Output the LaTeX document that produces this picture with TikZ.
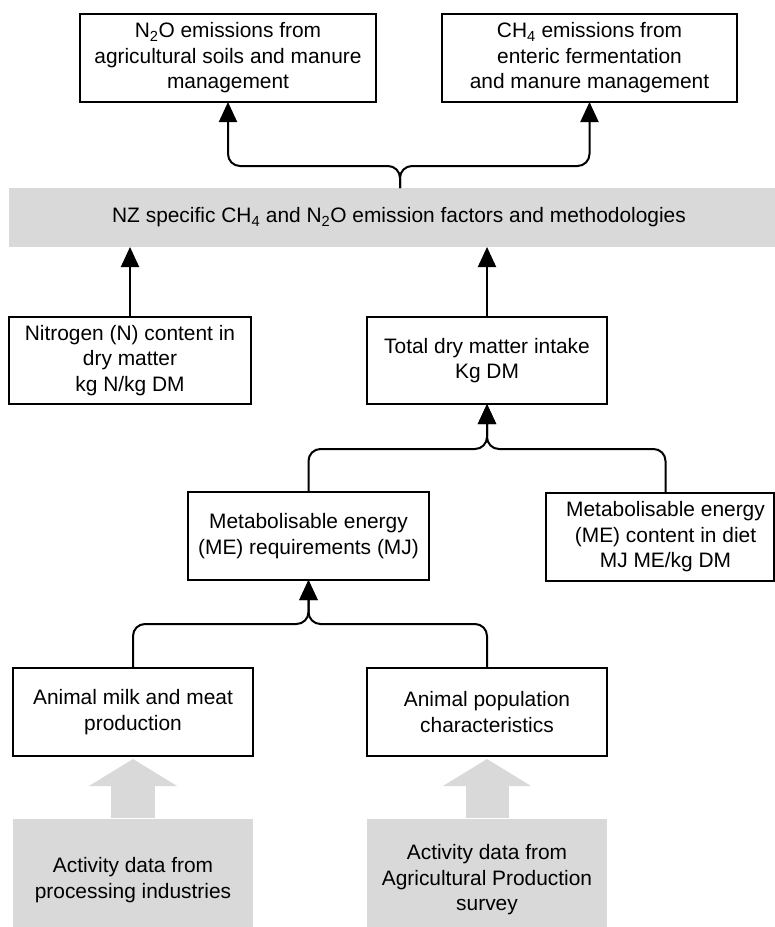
\documentclass[tikz,border=0pt]{standalone}
\usepackage{fontspec}
\setmainfont{Liberation Sans}
\usetikzlibrary{arrows.meta}
\definecolor{panelgray}{RGB}{217,217,217}
\begin{document}
\begin{tikzpicture}[x=1pt,y=-1pt,
  every node/.style={font=\fontsize{20.9}{25.5}\selectfont, align=center, inner sep=0pt, outer sep=0pt},
  box/.style={draw=black, line width=2pt, fill=white},
  graybox/.style={fill=panelgray},
  conn/.style={line width=2pt, rounded corners=12pt},
  arr/.style={conn, -{Triangle[length=20pt,width=18pt]}},
  bigarrow/.style={panelgray, -{Triangle[length=27pt,width=87pt]}}
]
\useasboundingbox (0,0) rectangle (775,927);
\clip (0,0) rectangle (775,927);

% top boxes
\node[box, minimum width=296pt, minimum height=88pt] (n2o) at (228,58)
  {N\textsubscript{2}O emissions from\\agricultural soils and manure\\management};
\node[box, minimum width=295pt, minimum height=88pt] (ch4) at (589.5,58)
  {CH\textsubscript{4} emissions from\\enteric fermentation\\and manure management};

% grey bar
\node[graybox, minimum width=766pt, minimum height=59pt] (bar) at (392,217.5) {};
\node (bartext) at (399,217.5)
  {NZ specific CH\textsubscript{4} and N\textsubscript{2}O emission factors and methodologies};

% middle boxes
\node[box, minimum width=242pt, minimum height=87pt] (nit) at (130,360.5)
  {Nitrogen (N) content in\\dry matter\\kg N/kg DM};
\node[box, minimum width=240pt, minimum height=87pt] (tdm) at (487,360.5)
  {Total dry matter intake\\Kg DM};
\node[box, minimum width=241pt, minimum height=88pt] (mer) at (308.5,536)
  {Metabolisable energy\\(ME) requirements (MJ)};
\node[box, minimum width=228pt, minimum height=88pt] (mec) at (659.5,537) {};
\node (mectext) at (665.5,537)
  {Metabolisable energy\\(ME) content in diet\\MJ ME/kg DM};

% lower boxes
\node[box, minimum width=240pt, minimum height=88pt] (milk) at (133,712)
  {Animal milk and meat\\production};
\node[box, minimum width=240pt, minimum height=88pt] (pop) at (487,712)
  {Animal population\\characteristics};

% source boxes
\node[graybox, minimum width=240pt, minimum height=122pt] (src1) at (133,880)
  {Activity data from\\processing industries};
\node[graybox, minimum width=240pt, minimum height=122pt] (src2) at (487,880)
  {Activity data from\\Agricultural Production\\survey};

% big grey arrows
\draw[bigarrow, line width=44pt] ([yshift=1pt]src1.north) -- ([yshift=-3pt]milk.south);
\draw[bigarrow, line width=43pt] ([yshift=1pt]src2.north) -- ([yshift=-3pt]pop.south);

% connectors
\coordinate (j1) at (400,166);
\draw[arr] (j1 |- bar.north) -- (j1) -| (n2o.south);
\draw[arr] (j1 |- bar.north) -- (j1) -| (ch4.south);

\draw[arr] (nit.north) -- (nit.north |- bar.south);
\draw[arr] (tdm.north) -- (tdm.north |- bar.south);

\coordinate (j2) at (487,449);
\draw[arr] (mer.north) |- (j2) -- (tdm.south);
\draw[arr] (mectext |- mec.north) |- (j2) -- (tdm.south);

\coordinate (j3) at (308.5,624);
\draw[arr] (milk.north) |- (j3) -- (mer.south);
\draw[arr] (pop.north) |- (j3) -- (mer.south);
\end{tikzpicture}
\end{document}
